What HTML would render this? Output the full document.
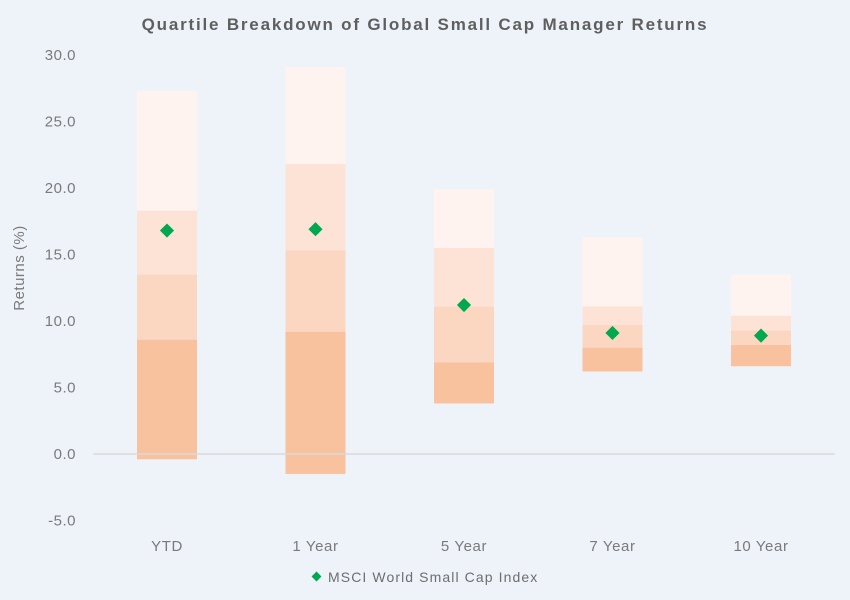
<!DOCTYPE html>
<html><head><meta charset="utf-8"><style>
body{margin:0;background:#eef3fa;}
svg{display:block;font-family:"Liberation Sans",sans-serif;}
</style></head><body>
<svg id="chart" width="850" height="600">
<rect width="850" height="600" fill="#eef3fa"/>
<text x="425" y="30" text-anchor="middle" font-size="17" font-weight="bold" fill="#5f5f5f" letter-spacing="1.8">Quartile Breakdown of Global Small Cap Manager Returns</text>
<text transform="translate(24,268) rotate(-90)" text-anchor="middle" font-size="15" fill="#7a7a7a" letter-spacing="0.5">Returns (%)</text>
<g id="yticks"></g><g id="bars"></g><g id="marks"></g>
<g>
<rect x="313" y="573" width="7" height="7" transform="rotate(45 316.5 576.5)" fill="#00a84f"/>
<text x="328" y="582" font-size="14" fill="#6e6e6e" letter-spacing="1.1">MSCI World Small Cap Index</text>
</g>
</svg>
<script>
const categories=["YTD","1 Year","5 Year","7 Year","10 Year"];
const q5=[-0.4,-1.5,3.8,6.2,6.6];
const q25=[8.6,9.2,6.9,8.0,8.2];
const q50=[13.5,15.3,11.1,9.7,9.3];
const q75=[18.3,21.8,15.5,11.1,10.4];
const q95=[27.3,29.1,19.9,16.3,13.5];
const index=[16.8,16.9,11.2,9.1,8.9];
const yTicks=[-5,0,5,10,15,20,25,30];
const NS="http://www.w3.org/2000/svg";
const y=v=>454-v*13.3;
const xc=i=>167+i*148.5;
function mk(t,a,p){const e=document.createElementNS(NS,t);for(const k in a)e.setAttribute(k,a[k]);p.appendChild(e);return e;}
const yt=document.getElementById('yticks');
yTicks.forEach(t=>{const e=mk('text',{x:76,y:y(t)+5,'text-anchor':'end','font-size':15,fill:'#7a7a7a','letter-spacing':0.5},yt);e.textContent=t.toFixed(1);

});
const bg=document.getElementById('bars');
const cols=['#f9c29e','#fbd7c2','#fde3d6','#fef3ee'];
categories.forEach((c,i)=>{
 const lv=[q5[i],q25[i],q50[i],q75[i],q95[i]];
 for(let k=0;k<4;k++){const r=mk('rect',{x:xc(i)-30,y:y(lv[k+1]),width:60,height:y(lv[k])-y(lv[k+1]),fill:cols[k]},bg);
 
 }
 const l=mk('text',{x:xc(i),y:551,'text-anchor':'middle','font-size':15,fill:'#7a7a7a','letter-spacing':0.6},bg);l.textContent=c;
 
 
});
const zl=mk('line',{x1:93,x2:835,y1:y(0),y2:y(0),stroke:'#d9d9d9','stroke-width':1.5},bg);


const mg=document.getElementById('marks');
index.forEach((v,i)=>{const d=mk('rect',{x:xc(i)-5,y:y(v)-5,width:10,height:10,fill:'#00a84f',transform:`rotate(45 ${xc(i)} ${y(v)})`},mg);

});
</script>
</body></html>
